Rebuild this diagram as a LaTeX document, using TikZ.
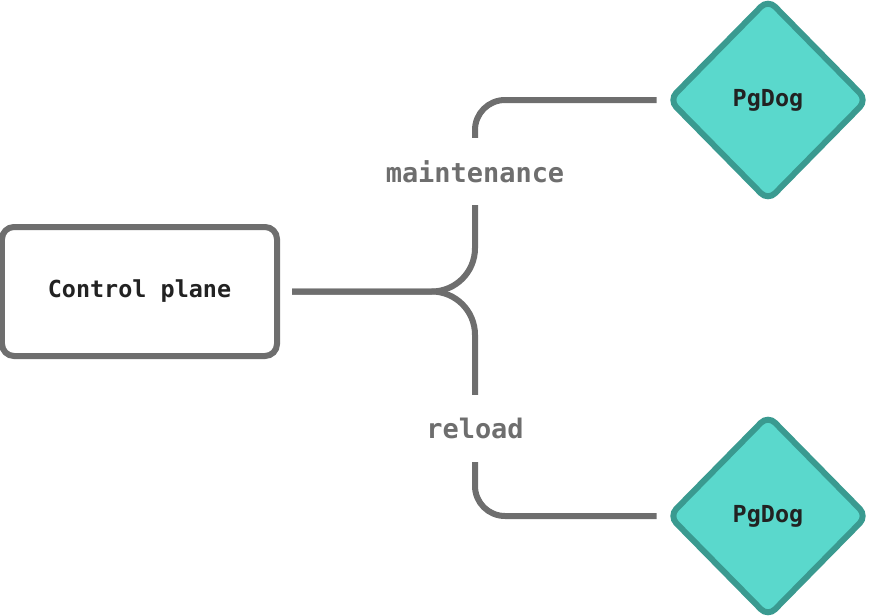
\documentclass[tikz,border=0pt]{standalone}
\usepackage{fontspec}
\setmonofont{DejaVu Sans Mono}
\usetikzlibrary{shapes.geometric, positioning}
\definecolor{wire}{HTML}{6E6E6E}
\definecolor{pgfill}{HTML}{5AD8CC}
\definecolor{pgline}{HTML}{3A9A90}
\definecolor{ink}{HTML}{222222}

\begin{document}
\begin{tikzpicture}[
    x=0.3mm, y=-0.3mm,
    plane/.style={rectangle, rounded corners=3.6mm, draw=wire, line width=1.8mm, fill=white,
                  minimum width=82.5mm, minimum height=38.7mm, font=\ttfamily\bfseries\fontsize{20}{24}\selectfont, text=ink},
    pgdog/.style={diamond, rounded corners=3mm, draw=pgline, fill=pgfill, line width=1.8mm, inner sep=0pt,
                  minimum width=60mm, minimum height=61mm, font=\ttfamily\bfseries\fontsize{20}{24}\selectfont, text=ink},
    cmd/.style={minimum height=20.1mm, inner sep=0pt, font=\ttfamily\bfseries\fontsize{23}{27}\selectfont, text=wire},
    wire/.style={draw=wire, line width=1.8mm}
]
\useasboundingbox (0,0) rectangle (872,616);

\node[plane] (ctrl) at (139.5,291.5) {Control plane};
\node[pgdog] (pg1) at (768,100) {PgDog};
\node[pgdog] (pg2) at (768,516) {PgDog};
\node[cmd] (maint) at (475,171.5) {maintenance};
\node[cmd] (reload) at (475,428.5) {reload};

\draw[wire, rounded corners=13mm, shorten <=3.6mm] (ctrl.east) -- (ctrl.east -| maint.south) -- (maint.south);
\draw[wire, rounded corners=13mm, shorten <=3.6mm] (ctrl.east) -- (ctrl.east -| reload.north) -- (reload.north);
\draw[wire, rounded corners=9mm, shorten >=2.5mm] (maint.north) |- (pg1.west);
\draw[wire, rounded corners=9mm, shorten >=2.5mm] (reload.south) |- (pg2.west);
\end{tikzpicture}
\end{document}
